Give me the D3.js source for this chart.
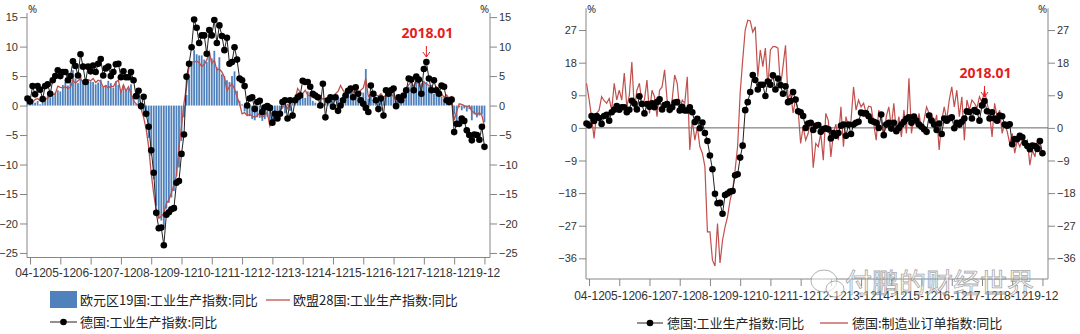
<!DOCTYPE html>
<html><head><meta charset="utf-8">
<script src="https://cdn.jsdelivr.net/npm/d3@7"></script>
<style>
body{margin:0;background:#fff;}
svg{display:block;font-family:"Noto Sans","Noto Sans CJK SC",sans-serif;}
</style>
</head><body>
<svg id="c" width="1080" height="334"></svg>
<script>
// Monthly data, 2004-11 .. 2019-12 (first row: 2004-11, 2004-12; then one row per year)
const firstMonth = "2004-11";
const yearTickLabels = ["04-12","05-12","06-12","07-12","08-12","09-12","10-12","11-12","12-12","13-12","14-12","15-12","16-12","17-12","18-12","19-12"];
const seriesNames = ["欧元区19国:工业生产指数:同比","欧盟28国:工业生产指数:同比","德国:工业生产指数:同比","德国:制造业订单指数:同比"];
const annotationLabel = "2018.01";
const annotationMonth = "2018-01";

const ezIP = [
 1.0, 1.0,
 0.6, 0.5, 0.8, 0.2, 0.6, 1.3, 1.6, 1.4, 1.6, 2.2, 2.6, 2.4,
 3.5, 4.0, 3.4, 4.5, 6.0, 4.6, 3.8, 5.2, 4.3, 3.8, 4.2, 4.1,
 4.0, 3.6, 3.9, 4.4, 3.1, 3.5, 4.2, 3.8, 3.0, 4.1, 3.5, 2.6,
 3.4, 2.8, 2.9, 3.6, 1.6, 0.2, 1.3, -0.6, -1.2, -2.0, -5.5, -8.5,
 -12.5, -17.0, -19.0, -19.5, -20.5, -17.5, -16.5, -15.6, -14.5, -12.0, -10.5, -6.0,
 -2.0, 1.8, 4.5, 7.5, 9.4, 8.7, 8.5, 8.5, 7.8, 7.4, 9.0, 8.0,
 9.3, 6.5, 8.2, 5.3, 5.0, 4.3, 4.0, 5.0, 5.8, 2.5, 0.8, 0.2,
 -1.0, -1.6, -1.8, -2.3, -2.5, -2.0, -2.1, -2.6, -2.3, -1.9, -2.8, -3.2,
 -2.5, -1.8, -1.2, -0.5, -1.3, 0.3, -0.9, 0.5, 0.8, 1.0, 2.0, 1.5,
 1.3, 2.4, 1.8, 0.8, 0.5, -0.4, 1.8, 0.3, 0.5, 0.8, 0.5, 1.2,
 0.1, 1.5, 1.3, 1.8, 2.3, 2.0, 2.4, 1.4, 2.6, 2.0, 1.5, 2.2,
 6.2, 1.2, 1.8, 1.0, 1.5, 1.0, 1.8, 0.8, 2.0, 2.3, 2.0, 2.5,
 1.2, 1.0, 0.8, 1.0, 2.6, 3.2, 3.6, 3.0, 4.0, 4.6, 3.8, 4.2,
 4.0, 3.2, 3.5, 2.0, 3.0, 2.5, 1.5, 1.0, 1.5, 0.8, 1.0, -1.5,
 -3.0, -0.3, -0.8, -0.5, -1.0, -0.6, -2.5, -1.5, -2.0, -1.7, -1.5, -2.8
];
const eu28IP = [
 1.0, 0.8,
 0.6, 1.0, 1.2, 0.8, 1.1, 1.0, 1.3, 1.6, 1.8, 2.0, 3.3, 3.1,
 3.0, 3.2, 2.9, 3.1, 4.3, 3.8, 4.2, 4.6, 3.9, 4.0, 4.4, 4.2,
 4.6, 3.9, 4.3, 4.1, 3.1, 3.4, 3.0, 3.3, 3.2, 4.0, 4.3, 2.2,
 3.5, 2.5, 3.2, 2.0, 0.9, 0.3, 0.0, -0.6, -2.0, -4.0, -7.0, -11.5,
 -15.0, -17.8, -19.1, -18.8, -18.3, -16.6, -16.0, -14.8, -13.5, -11.8, -7.0, -3.6,
 0.5, 3.2, 6.6, 7.4, 7.4, 7.5, 7.3, 6.6, 7.0, 7.7, 9.1, 7.1,
 7.7, 6.0, 6.2, 5.7, 4.8, 2.5, 3.2, 3.7, 2.8, 1.5, 0.3, -1.4,
 -1.2, -1.7, -1.5, -1.8, -2.0, -1.7, -1.3, -2.0, -1.6, -1.2, -3.5, -2.8,
 -1.4, -2.2, -1.0, -0.3, 0.2, -0.5, 0.6, 0.9, 1.0, 2.9, 2.3, 2.0,
 2.6, 1.8, 1.6, 1.4, 2.0, 1.0, 1.4, 1.1, 1.2, 1.0, 1.4, 1.2,
 2.0, 2.4, 3.4, 2.6, 2.0, 2.5, 3.1, 2.2, 2.8, 2.0, 2.6, 3.0,
 4.6, 1.5, 2.0, 1.4, 1.8, 1.6, 2.0, 1.4, 1.8, 1.6, 2.0, 1.5,
 0.9, 1.0, 0.9, 1.0, 2.9, 3.5, 4.0, 3.2, 4.3, 3.6, 3.0, 3.9,
 3.7, 3.4, 2.9, 2.4, 3.2, 2.6, 2.0, 1.4, 1.8, 1.2, 1.5, -2.5,
 -1.0, 0.3, 0.2, 0.0, -0.2, 0.0, -1.0, -1.2, -1.6, -1.2, -1.7, -3.5
];
const deIP = [
 1.2, 0.7,
 3.3, 1.9, 3.3, 2.7, 1.1, 3.3, 3.6, 2.0, 4.3, 5.0, 6.0, 5.0,
 5.7, 5.7, 4.3, 5.0, 7.5, 6.7, 5.1, 8.7, 6.6, 4.0, 6.6, 5.8,
 6.8, 5.7, 7.1, 7.9, 5.1, 6.3, 6.6, 5.0, 5.7, 7.0, 7.1, 4.8,
 5.8, 4.8, 4.8, 5.7, 4.3, 1.6, 2.5, -0.1, 1.5, -1.4, -3.6, -7.6,
 -11.4, -18.2, -20.8, -20.7, -23.7, -18.5, -18.1, -17.6, -17.4, -13.1, -12.8, -8.2,
 -4.9, 4.9, 7.1, 9.9, 14.6, 13.2, 10.6, 11.9, 11.9, 8.8, 12.8, 11.9,
 14.5, 10.6, 13.6, 11.8, 9.4, 11.5, 7.1, 7.4, 9.9, 7.8, 4.6, 4.3,
 3.3, 0.0, 1.2, 1.4, -0.6, 0.6, 0.8, -1.1, -0.3, -0.1, -0.4, -2.9,
 -1.4, -2.2, -1.4, 0.6, 0.9, -2.2, 0.9, -1.7, 0.9, 1.4, 1.7, 4.2,
 4.0, 4.0, 3.2, 2.0, 1.7, 1.4, 0.0, 3.7, -2.0, 0.9, 1.4, -0.2,
 1.4, -0.9, 0.0, 0.9, 1.7, 2.5, 2.9, 1.4, 3.1, 2.0, 0.9, 0.3,
 -0.4, -1.1, 3.4, 2.0, 0.9, -0.6, 1.2, -1.7, 2.6, 2.0, 2.6, 2.9,
 -0.1, 1.4, 0.9, 1.7, 2.6, 4.6, 4.4, 2.6, 4.9, 4.4, 2.0, 6.2,
 7.4, 4.6, 2.6, 4.3, 2.6, 2.0, 3.4, 3.2, 0.9, 0.6, 1.0, -4.5,
 -3.1, -3.1, -2.2, -2.6, -4.2, -5.0, -5.9, -4.9, -5.0, -5.8, -3.6, -7.0
];
const deOrders = [
 12.3, 8.0,
 3.0, -2.9, 4.0, 4.9, 8.6, 7.5, 6.8, 8.1, 4.9, 12.3, 7.7, 10.4,
 7.7, 15.1, 5.8, 9.0, 18.2, 4.9, 10.4, 12.3, 6.8, 7.7, 13.2, 4.0,
 10.4, 8.6, 3.1, 10.4, 11.3, 16.0, 7.7, 4.0, 7.7, 14.6, 12.3, 4.9,
 7.7, 6.8, 14.1, -6.1, 2.2, -3.4, 0.3, -5.2, -7.0, -10.7, -28.7, -28.7,
 -36.5, -38.1, -26.4, -37.3, -31.0, -27.3, -24.5, -20.0, -17.2, -11.6, -5.0, 9.6,
 18.7, 27.0, 29.7, 29.5, 26.4, 27.9, 14.1, 21.5, 16.9, 22.0, 11.3, 21.5,
 22.4, 22.4, 22.0, 11.3, 16.9, 22.8, 8.0, 9.6, 4.1, 8.0, 5.0, -4.3,
 0.3, -3.4, -1.5, 2.0, -11.0, -4.3, -5.2, -1.5, -8.9, 4.0, 2.0, -8.0,
 -1.5, 1.0, -3.4, 5.8, -5.2, 3.1, 0.3, 2.0, 11.3, 4.9, 7.7, 5.8,
 6.8, 4.0, 6.0, 5.8, 1.2, -3.4, 4.9, 2.0, -2.5, 3.1, 5.8, 0.3,
 6.8, -1.5, 3.1, -2.5, 4.9, -1.5, 13.7, -1.5, 3.1, 0.3, 4.0, -0.6,
 2.2, 5.8, 4.0, 4.0, 0.3, 3.6, -6.1, 2.0, 5.8, 2.2, 7.7, 11.3,
 5.8, 10.4, 3.1, 8.6, -3.4, 7.7, 4.9, 7.7, 6.8, 5.5, 8.6, 7.0,
 10.4, 6.8, 4.0, -2.5, 6.8, 3.1, 4.9, -1.5, 1.2, -1.0, -4.3, -1.5,
 -7.0, -3.4, -5.2, -3.4, -4.5, -3.4, -10.3, -6.1, -8.0, -3.4, -5.0, -7.0
];

// month offsets relative to 2004-12 (first tick)
const [fy, fm] = firstMonth.split("-").map(Number);
const monthOffset = d3.range(deIP.length).map(i => (fy - 2004) * 12 + (fm - 12) + i);
const [ay, am] = annotationMonth.split("-").map(Number);
const annOffset = (ay - 2004) * 12 + (am - 12);
const majorTickOffsets = yearTickLabels.map((d, i) => i * 12);
const minorTickOffsets = d3.range(0, 183).filter(m => m % 2 === 0 && m % 12 !== 0);

const BLUE = "#4f81bd", RED = "#c0504d", AX = "#868686", TXT = "#333";
const svg = d3.select("#c");

function styleAxis(g, fs) {
  g.selectAll("path.domain").attr("stroke", AX).attr("stroke-width", 1);
  g.selectAll(".tick line").attr("stroke", AX);
  g.selectAll(".tick text").attr("fill", TXT).style("font-size", fs || "11px");
}

function panel(cfg) {
  const { x, y, yMajor, yMinor } = cfg;
  const [x0, x1] = x.range();
  const yb = y.range()[0], yt = y.range()[1];
  const g = svg.append("g");

  // x axis
  const gx = g.append("g").attr("transform", `translate(0,${yb})`);
  gx.call(d3.axisBottom(x).tickValues(minorTickOffsets).tickSize(4).tickFormat("").tickSizeOuter(0));
  gx.call(d3.axisBottom(x).tickValues(majorTickOffsets).tickSize(7).tickSizeOuter(0)
     .tickPadding(cfg.xPad).tickFormat((d, i) => yearTickLabels[i]));
  styleAxis(gx, "12px");
  gx.selectAll("path.domain").attr("d", `M${x0},0H${x1}`);

  // y axes
  const gl = g.append("g").attr("transform", `translate(${x0},0)`);
  gl.call(d3.axisLeft(y).tickValues(yMinor).tickSize(3).tickFormat("").tickSizeOuter(0));
  gl.call(d3.axisLeft(y).tickValues(yMajor).tickSize(7).tickPadding(2).tickFormat(d3.format("d")).tickSizeOuter(0));
  styleAxis(gl);
  gl.selectAll("path.domain").attr("d", `M0,${yt}V${yb}`);
  const gr = g.append("g").attr("transform", `translate(${x1},0)`);
  gr.call(d3.axisRight(y).tickValues(yMinor).tickSize(3).tickFormat("").tickSizeOuter(0));
  gr.call(d3.axisRight(y).tickValues(yMajor).tickSize(7).tickPadding(2).tickFormat(d3.format("d")).tickSizeOuter(0));
  styleAxis(gr);
  gr.selectAll("path.domain").attr("d", `M0,${yt}V${yb}`);

  g.append("text").attr("x", x0 + 1).attr("y", 13).attr("fill", TXT).style("font-size", "11px").text("%");
  g.append("text").attr("x", x1 - 10).attr("y", 13).attr("fill", TXT).style("font-size", "11px").text("%");
  return g;
}

function dots(g, x, y, vals) {
  const line = d3.line().x((d, i) => x(monthOffset[i])).y(d => y(d));
  g.append("path").attr("d", line(vals)).attr("fill", "none").attr("stroke", "#222").attr("stroke-width", 1);
  g.selectAll(null).data(vals).join("circle")
    .attr("cx", (d, i) => x(monthOffset[i])).attr("cy", d => y(d)).attr("r", 3.3).attr("fill", "#000");
}

function annotate(g, x, textY) {
  const ax = x(annOffset);
  g.append("text").attr("x", ax + 1).attr("y", textY).attr("text-anchor", "middle")
    .attr("fill", "#e31e24").style("font-size", "14px").style("font-weight", "bold").text(annotationLabel);
  const ya = textY + 8, yb = textY + 19;
  g.append("path").attr("d", `M${ax},${ya}V${yb}M${ax - 3.5},${yb - 5}L${ax},${yb}L${ax + 3.5},${yb - 5}`)
    .attr("fill", "none").attr("stroke", "#e31e24").attr("stroke-width", 1);
}

// ---------- LEFT PANEL ----------
const xL = d3.scaleLinear().domain([-1.2, 182.2]).range([27, 490]);
const yL = d3.scaleLinear().domain([-25.77, 15.7]).range([257.5, 13]);
const yLMajor = d3.range(-25, 16, 5);
const yLMinor = d3.range(0, 25).map(i => -25 + i * 5 / 3).filter((v, i) => i % 3 !== 0);
const gL = panel({ x: xL, y: yL, yMajor: yLMajor, yMinor: yLMinor, xPad: 4 });

gL.selectAll(null).data(ezIP).join("rect")
  .attr("x", (d, i) => xL(monthOffset[i]) - 0.9).attr("width", 1.8)
  .attr("y", d => yL(Math.max(0, d))).attr("height", d => Math.abs(yL(d) - yL(0)))
  .attr("fill", BLUE);
gL.append("path").attr("d", d3.line().x((d, i) => xL(monthOffset[i])).y(d => yL(d))(eu28IP))
  .attr("fill", "none").attr("stroke", RED).attr("stroke-width", 1.3);
dots(gL, xL, yL, deIP);
annotate(gL, xL, 38);

// ---------- RIGHT PANEL ----------
const xR = d3.scaleLinear().domain([-1.2, 182.2]).range([586, 1048]);
const yR = d3.scaleLinear().domain([-41.7, 33]).range([279, 8.3]);
const yRMajor = d3.range(-36, 28, 9);
const yRMinor = d3.range(-39, 34, 3).filter(v => v % 9 !== 0);
const gR = panel({ x: xR, y: yR, yMajor: yRMajor, yMinor: yRMinor, xPad: 5.5 });

gR.append("line").attr("x1", xR.range()[0]).attr("x2", xR.range()[1]).attr("y1", yR(0)).attr("y2", yR(0))
  .attr("stroke", "#666").attr("stroke-width", 1);
gR.append("path").attr("d", d3.line().x((d, i) => xR(monthOffset[i])).y(d => yR(d))(deOrders))
  .attr("fill", "none").attr("stroke", RED).attr("stroke-width", 1.2);
dots(gR, xR, yR, deIP);
annotate(gR, xR, 78);

// ---------- LEGENDS ----------
const lg = svg.append("g").style("font-family", '"Noto Sans CJK SC",sans-serif').style("font-size", "13px").attr("fill", "#222");
lg.append("rect").attr("x", 50).attr("y", 291).attr("width", 27).attr("height", 17).attr("fill", BLUE);
lg.append("text").attr("x", 80).attr("y", 305).text(seriesNames[0]);
lg.append("line").attr("x1", 266).attr("x2", 290).attr("y1", 300).attr("y2", 300).attr("stroke", RED).attr("stroke-width", 1.3);
lg.append("text").attr("x", 293).attr("y", 305).text(seriesNames[1]);
function dotSwatch(x1, x2, yy) {
  lg.append("line").attr("x1", x1).attr("x2", x2).attr("y1", yy).attr("y2", yy).attr("stroke", "#222");
  lg.append("circle").attr("cx", (x1 + x2) / 2).attr("cy", yy).attr("r", 3.3).attr("fill", "#000");
}
dotSwatch(50, 77, 322);
lg.append("text").attr("x", 80).attr("y", 327).text(seriesNames[2]);
dotSwatch(637, 663, 323);
lg.append("text").attr("x", 667).attr("y", 328).text(seriesNames[2]);
lg.append("line").attr("x1", 820).attr("x2", 848).attr("y1", 323).attr("y2", 323).attr("stroke", RED).attr("stroke-width", 1.3);
lg.append("text").attr("x", 852).attr("y", 328).text(seriesNames[3]);

// ---------- WATERMARK ----------
const wm = svg.append("g").attr("opacity", 0.75);
wm.append("ellipse").attr("cx", 824).attr("cy", 281).attr("rx", 13).attr("ry", 11)
  .attr("fill", "rgba(255,255,255,0.6)").attr("stroke", "#999").attr("stroke-width", 1);
wm.append("ellipse").attr("cx", 835).attr("cy", 289).attr("rx", 9).attr("ry", 8)
  .attr("fill", "rgba(255,255,255,0.6)").attr("stroke", "#999").attr("stroke-width", 1);
wm.append("text").attr("x", 845).attr("y", 293)
  .style("font-family", '"Noto Sans CJK SC",sans-serif').style("font-size", "27px")
  .attr("fill", "rgba(255,255,255,0.55)").attr("stroke", "#8a8a8a").attr("stroke-width", 0.8)
  .text("付鹏的财经世界");
</script>
</body></html>
